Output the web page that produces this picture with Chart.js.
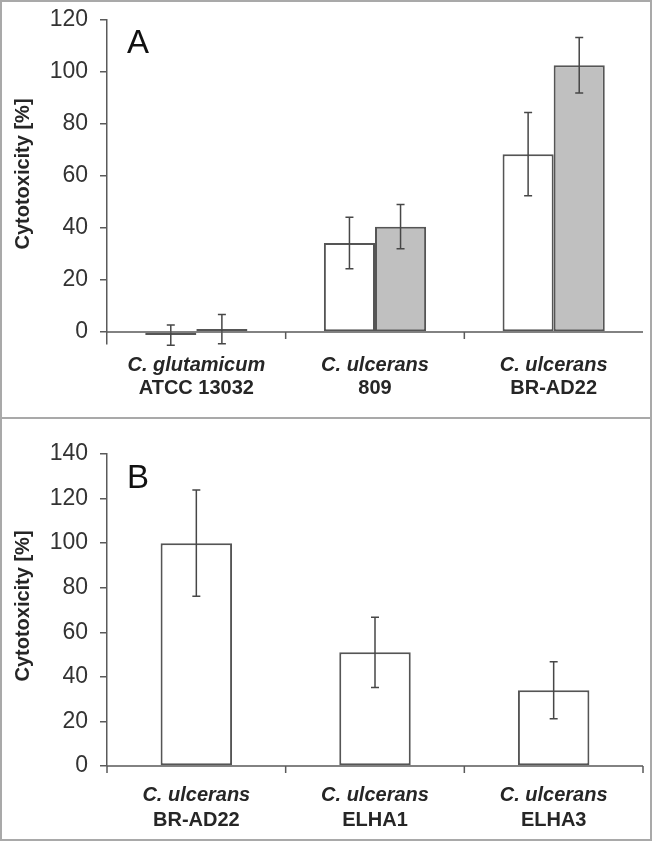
<!DOCTYPE html>
<html>
<head>
<meta charset="utf-8">
<script src="https://cdn.jsdelivr.net/npm/chart.js@4.4.1/dist/chart.umd.min.js"></script>
<style>
  html, body { margin: 0; padding: 0; background: #fff; }
  #wrap { position: relative; width: 652px; height: 841px; overflow: hidden; }
  #cA { position: absolute; left: 0; top: 0; }
  #cB { position: absolute; left: 0; top: 418px; }
  .frame { position: absolute; left: 0; top: 0; width: 652px; height: 841px; box-sizing: border-box; border: 2px solid #a9a9a9; }
  .divider { position: absolute; left: 0; top: 417px; width: 652px; height: 2px; background: #a9a9a9; }
</style>
</head>
<body>
<div id="wrap">
  <canvas id="cA" width="652" height="418"></canvas>
  <canvas id="cB" width="652" height="423"></canvas>
  <div class="frame"></div>
  <div class="divider"></div>
</div>
<script>
// panel A
const speciesA = ['C. glutamicum', 'C. ulcerans', 'C. ulcerans'];
const strainsA = ['ATCC 13032', '809', 'BR-AD22'];
const whiteA = [-1.2, 34.2, 68.4];
const whiteErrA = [3.9, 9.9, 16.0];
const grayA = [1.1, 40.5, 102.6];
const grayErrA = [5.6, 8.5, 10.7];
const ticksA = [0, 20, 40, 60, 80, 100, 120];

// panel B
const speciesB = ['C. ulcerans', 'C. ulcerans', 'C. ulcerans'];
const strainsB = ['BR-AD22', 'ELHA1', 'ELHA3'];
const valuesB = [100, 51.0, 34.0];
const errB = [23.8, 15.8, 12.8];
const ticksB = [0, 20, 40, 60, 80, 100, 120, 140];

const FONT = "'Liberation Sans', Arial, sans-serif";
const AXIS = '#5a5a5a';
const TEXT = '#262626';

const errorBars = {
  id: 'errorBars',
  afterDatasetsDraw(chart) {
    const { ctx } = chart;
    const y = chart.scales.y;
    ctx.save();
    ctx.strokeStyle = '#474747';
    ctx.lineWidth = 1.5;
    chart.data.datasets.forEach((ds, i) => {
      const meta = chart.getDatasetMeta(i);
      meta.data.forEach((bar, j) => {
        const v = ds.data[j], e = ds.errors[j];
        const top = y.getPixelForValue(v + e), bot = y.getPixelForValue(v - e);
        ctx.beginPath();
        ctx.moveTo(bar.x, top); ctx.lineTo(bar.x, bot);
        ctx.moveTo(bar.x - 4, top); ctx.lineTo(bar.x + 4, top);
        ctx.moveTo(bar.x - 4, bot); ctx.lineTo(bar.x + 4, bot);
        ctx.stroke();
      });
    });
    ctx.restore();
  }
};

function decorations(species, strains, letter, letterY, labelY, titleY, edgeTicks) {
  return {
    id: 'decor',
    afterDraw(chart) {
      const { ctx, chartArea } = chart;
      const y0 = chart.scales.y.getPixelForValue(0);
      const x = chart.scales.x;
      const n = species.length;
      const w = (chartArea.right - chartArea.left) / n;
      ctx.save();
      ctx.strokeStyle = AXIS;
      ctx.lineWidth = 1.5;
      ctx.beginPath();
      ctx.moveTo(chartArea.left, y0); ctx.lineTo(chartArea.right, y0);
      for (let i = edgeTicks ? 0 : 1; i <= (edgeTicks ? n : n - 1); i++) {
        const tx = chartArea.left + i * w;
        ctx.moveTo(tx, y0); ctx.lineTo(tx, y0 + 7);
      }
      ctx.stroke();

      ctx.fillStyle = TEXT;
      ctx.textAlign = 'center';
      ctx.textBaseline = 'middle';
      species.forEach((s, i) => {
        const cx = x.getPixelForValue(i);
        ctx.font = 'italic bold 20px ' + FONT;
        ctx.fillText(s, cx, labelY[0]);
        ctx.font = 'bold 20px ' + FONT;
        ctx.fillText(strains[i], cx, labelY[1]);
      });

      ctx.save();
      ctx.translate(23, titleY);
      ctx.rotate(-Math.PI / 2);
      ctx.font = 'bold 20px ' + FONT;
      ctx.fillText('Cytotoxicity [%]', 0, 0);
      ctx.restore();

      ctx.textAlign = 'left';
      ctx.textBaseline = 'alphabetic';
      ctx.fillStyle = '#111';
      ctx.font = '33px ' + FONT;
      ctx.fillText(letter, 127, letterY);
      ctx.restore();
    }
  };
}

function yScale(min, max, ticks) {
  return {
    min, max,
    afterBuildTicks(s) { s.ticks = ticks.map(v => ({ value: v })); },
    afterFit(s) { s.width = 107; s.paddingTop = 0; s.paddingBottom = 0; },
    border: { display: true, color: AXIS, width: 1.5 },
    grid: { drawOnChartArea: false, drawTicks: true, tickLength: 7, color: AXIS, lineWidth: 1.5 },
    ticks: { padding: 12, color: '#333', font: { family: FONT, size: 23 } }
  };
}

function baseOptions(min, max, ticks, padBottom, padTop) {
  return {
    responsive: false,
    animation: false,
    layout: { padding: { left: 0, right: 9, top: padTop, bottom: padBottom } },
    plugins: { legend: { display: false }, tooltip: { enabled: false } },
    scales: {
      x: { display: false, grid: { display: false } },
      y: yScale(min, max, ticks)
    }
  };
}

new Chart(document.getElementById('cA'), {
  type: 'bar',
  data: {
    labels: strainsA,
    datasets: [
      { data: whiteA, errors: whiteErrA, backgroundColor: '#ffffff', borderColor: '#555555', borderWidth: 2, borderSkipped: false,
        categoryPercentage: 0.572, barPercentage: 1 },
      { data: grayA, errors: grayErrA, backgroundColor: '#c0c0c0', borderColor: '#555555', borderWidth: 2, borderSkipped: false,
        categoryPercentage: 0.572, barPercentage: 1 }
    ]
  },
  options: baseOptions(-4.4, 120, ticksA, 418 - 343.4, 20),
  plugins: [errorBars, decorations(speciesA, strainsA, 'A', 53, [365, 388], 174, false)]
});

new Chart(document.getElementById('cB'), {
  type: 'bar',
  data: {
    labels: strainsB,
    datasets: [
      { data: valuesB, errors: errB, backgroundColor: '#ffffff', borderColor: '#555555', borderWidth: 2, borderSkipped: false,
        categoryPercentage: 0.4, barPercentage: 1 }
    ]
  },
  options: baseOptions(0, 140, ticksB, 423 - 348, 36),
  plugins: [errorBars, decorations(speciesB, strainsB, 'B', 70, [377.5, 402.5], 188, true)]
});
</script>
</body>
</html>
